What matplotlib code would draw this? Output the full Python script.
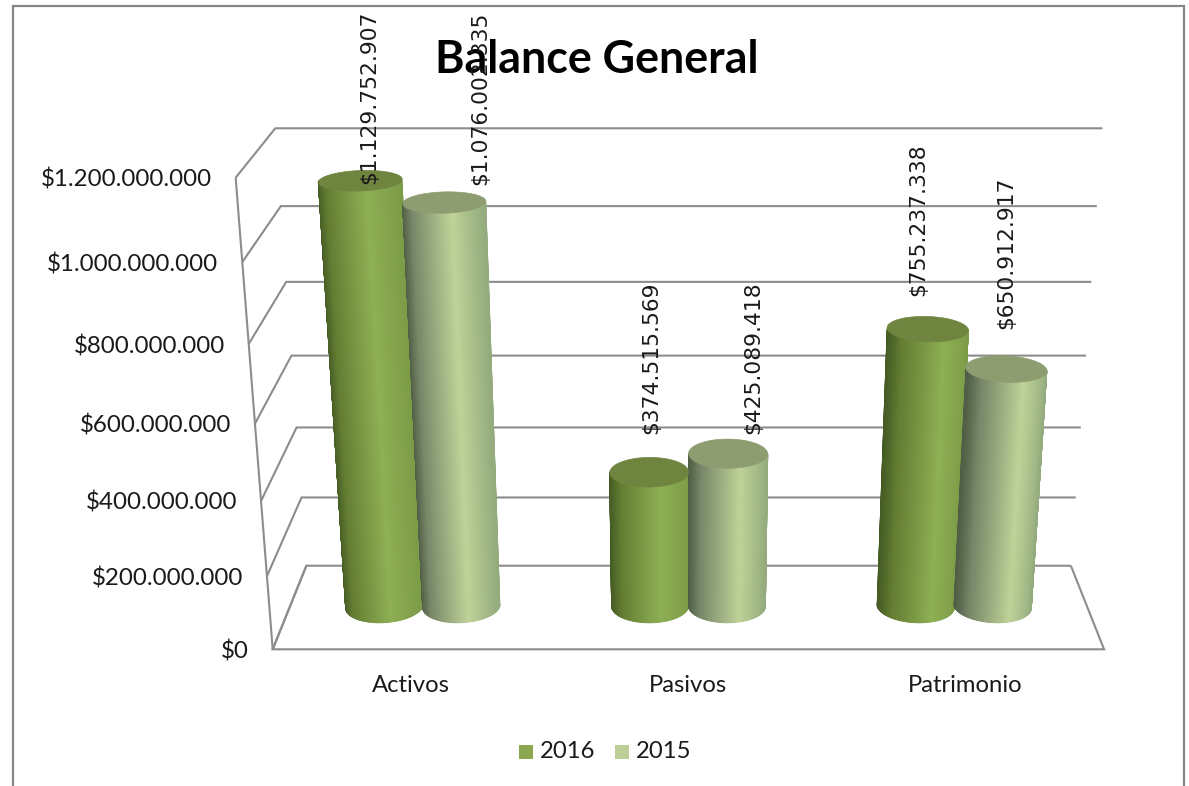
import matplotlib
matplotlib.use("Agg")
import matplotlib.pyplot as plt
from matplotlib.patches import Polygon, Rectangle
import numpy as np

categories = ["Activos", "Pasivos", "Patrimonio"]
series_names = ["2016", "2015"]
values_2016 = [1129752907, 374515569, 755237338]
values_2015 = [1076002335, 425089418, 650912917]
label_2016 = ["$1.129.752.907", "$374.515.569", "$755.237.338"]
label_2015 = ["$1.076.002.335", "$425.089.418", "$650.912.917"]
axis_ticks = [0, 200000000, 400000000, 600000000, 800000000, 1000000000, 1200000000]
axis_labels = ["$0", "$200.000.000", "$400.000.000", "$600.000.000",
               "$800.000.000", "$1.000.000.000", "$1.200.000.000"]
axis_max = 1200000000

# how far each data label sits from the top of its column, in pixels
label_shift_2016 = [(9, -3), (2, 38), (-9, 33)]
label_shift_2015 = [(36, 17), (25, 19), (0, 40)]

GRID = "#8c8c8c"
FRAME = "#868686"
TEXT = "#1a1a1a"

# colours across a column, left edge to right edge
shade_pos = [0, 0.15, 0.65, 1]
shade_2016 = [(0.27, 0.36, 0.14), (0.39, 0.49, 0.20), (0.56, 0.69, 0.33), (0.49, 0.61, 0.28)]
shade_2015 = [(0.31, 0.37, 0.27), (0.47, 0.53, 0.41), (0.75, 0.83, 0.60), (0.58, 0.67, 0.49)]
top_2016 = "#6f853f"
top_2015 = "#8d9d70"
legend_2016 = "#8aa64f"
legend_2015 = "#bcd096"

# fit the chart box (x, value, depth) onto the picture, excel style perspective
corners = [(0, 0, 0, 273, 649), (1, 0, 0, 1104, 649), (0, 0, 1, 306, 566), (1, 0, 1, 1071, 566),
           (0, 1, 1, 276, 128), (1, 1, 1, 1102, 128), (0, 1, 0, 235, 178), (1, 1, 0, 1142, 178)]
rows = []
rhs = []
for a, t, d, px, py in corners:
    rows.append([1, a, t, d, 0, 0, 0, 0, -px * a, -px * t, -px * d])
    rows.append([0, 0, 0, 0, 1, a, t, d, -py * a, -py * t, -py * d])
    rhs += [px, py]
coef = np.linalg.lstsq(np.array(rows, float), np.array(rhs, float), rcond=None)[0]


def project(a, t, d):
    a, t, d = np.asarray(a, float), np.asarray(t, float), np.asarray(d, float)
    w = 1 + coef[8] * a + coef[9] * t + coef[10] * d
    sx = (coef[0] + coef[1] * a + coef[2] * t + coef[3] * d) / w
    sy = (coef[4] + coef[5] * a + coef[6] * t + coef[7] * d) / w
    return sx, sy


def line3(ax, pts, color=GRID, lw=1.5):
    pts = np.array(pts, float)
    sx, sy = project(pts[:, 0], pts[:, 1], pts[:, 2])
    ax.plot(sx, sy, color=color, lw=lw, solid_joinstyle="miter", solid_capstyle="butt", zorder=1)


def column(ax, center, value, shades, top_color, rx=0.0482, rd=0.2):
    t = value / axis_max
    theta = np.linspace(np.pi, 2 * np.pi, 90)
    xs = center + rx * np.cos(theta)
    ds = 0.5 + rd * np.sin(theta)
    shades = np.array(shades)
    u = (xs - (center - rx)) / (2 * rx)
    col = np.column_stack([np.interp(u, shade_pos, shades[:, k]) for k in range(3)])
    bx, by = project(xs, 0 * xs, ds)
    tx, ty = project(xs, t + 0 * xs, ds)
    mesh = ax.pcolormesh(np.vstack([bx, tx]), np.vstack([by, ty]), np.stack([col, col]),
                         shading="gouraud", zorder=2)
    mesh.set_rasterized(False)
    ring = np.linspace(0, 2 * np.pi, 90)
    sx, sy = project(center + rx * np.cos(ring), t + 0 * ring, 0.5 + rd * np.sin(ring))
    ax.add_patch(Polygon(np.column_stack([sx, sy]), closed=True, facecolor=top_color,
                         edgecolor=top_color, lw=0.5, zorder=3))
    return project(center, t, 0.5)


fig = plt.figure(figsize=(11.89, 7.86), dpi=100)
ax = fig.add_axes([0, 0, 1, 1])

# outer chart frame, cut off by the bottom of the screenshot
ax.plot([13, 13, 1184, 1184], [786, 6, 6, 786], color=FRAME, lw=1.6, solid_joinstyle="miter")

# walls and floor
for v in axis_ticks:
    t = v / axis_max
    line3(ax, [(0, t, 0), (0, t, 1), (1, t, 1)])
line3(ax, [(0, 0, 0), (0, 1, 0)])
line3(ax, [(0, 0, 1), (0, 0, 0), (1, 0, 0), (1, 0, 1)])

for v, lab in zip(axis_ticks, axis_labels):
    sx, sy = project(0, v / axis_max, 0)
    ax.text(sx - 24, sy + 2, lab, ha="right", va="center", fontsize=17.4, family="Lato", color=TEXT)

n = len(categories)
width = 1 / n * 0.2895
for i in range(n):
    mid = (i + 0.5) / n
    sx, sy = project(mid, 0, 0)
    ax.text(sx, sy + 36, categories[i], ha="center", va="center", fontsize=17.2, family="Lato", color=TEXT)

    x1, y1 = column(ax, mid - width / 2, values_2016[i], shade_2016, top_2016)
    x2, y2 = column(ax, mid + width / 2, values_2015[i], shade_2015, top_2015)
    dx, dy = label_shift_2016[i]
    ax.text(x1 + dx, y1 - dy, label_2016[i], rotation=90, ha="center", va="bottom",
            fontsize=15.7, family="DejaVu Sans", color=TEXT, zorder=5)
    dx, dy = label_shift_2015[i]
    ax.text(x2 + dx, y2 - dy, label_2015[i], rotation=90, ha="center", va="bottom",
            fontsize=15.7, family="DejaVu Sans", color=TEXT, zorder=5)

ax.text(597, 60, "Balance General", ha="center", va="center", fontsize=32.2, fontweight="bold",
        family="Lato", color="black", zorder=4)

# legend
ax.add_patch(Rectangle((519, 745), 14, 14, facecolor=legend_2016, edgecolor="none"))
ax.text(540, 752, series_names[0], ha="left", va="center", fontsize=17.2, family="Lato", color=TEXT)
ax.add_patch(Rectangle((615, 745), 14, 14, facecolor=legend_2015, edgecolor="none"))
ax.text(636, 752, series_names[1], ha="left", va="center", fontsize=17.2, family="Lato", color=TEXT)

ax.set_xlim(0, 1189)
ax.set_ylim(786, 0)
ax.axis("off")

fig.savefig("out.png", dpi=100)
